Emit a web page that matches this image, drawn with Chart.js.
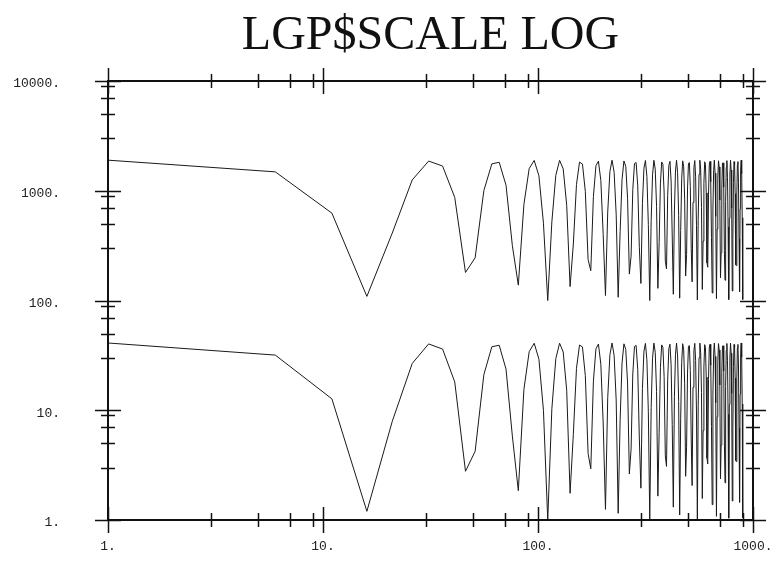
<!DOCTYPE html>
<html><head><meta charset="utf-8">
<script src="https://cdn.jsdelivr.net/npm/chart.js@4.4.0/dist/chart.umd.min.js"></script>
<style>html,body{margin:0;padding:0;background:#fff;}#wrap{width:774px;height:569px;}</style>
</head><body><div id="wrap"><canvas id="c" width="774" height="569"></canvas></div>
<script>
const titleText = 'LGP$SCALE LOG';
const xValues = [1,6,11,16,21,26,31,36,41,46,51,56,61,66,71,76,81,86,91,96,101,106,111,116,121,126,131,136,141,146,151,156,161,166,171,176,181,186,191,196,201,206,211,216,221,226,231,236,241,246,251,256,261,266,271,276,281,286,291,296,301,306,311,316,321,326,331,336,341,346,351,356,361,366,371,376,381,386,391,396,401,406,411,416,421,426,431,436,441,446,451,456,461,466,471,476,481,486,491,496,501,506,511,516,521,526,531,536,541,546,551,556,561,566,571,576,581,586,591,596,601,606,611,616,621,626,631,636,641,646,651,656,661,666,671,676,681,686,691,696,701,706,711,716,721,726,731,736,741,746,751,756,761,766,771,776,781,786,791,796,801,806,811,816,821,826,831,836,841,846,851,856,861,866,871,876,881,886,891,896];
const upperSeries = [1900,1486,625,109,412,1255,1864,1679,869,180,245,1004,1759,1817,1123,316,138,752,1594,1890,1367,507,
100,520,1382,1892,1582,737,134,327,1139,1823,1751,988,236,187,885,1689,1860,1240,400,111,640,1500,
1900,1473,611,107,424,1271,1868,1668,853,174,254,1020,1768,1810,1107,306,143,768,1606,1887,1353,494,
100,534,1396,1894,1570,722,129,337,1155,1830,1742,972,228,194,901,1699,1855,1225,388,114,655,1513,
1899,1459,597,105,436,1286,1873,1657,838,167,263,1036,1776,1803,1091,296,148,783,1618,1885,1338,481,
101,548,1410,1896,1558,707,126,348,1170,1836,1733,956,220,201,916,1709,1850,1209,376,117,669,1526,
1899,1445,583,104,449,1301,1876,1646,822,161,272,1052,1784,1795,1076,286,153,799,1629,1881,1323,468,
102,562,1425,1897,1545,692,122,359,1186,1841,1723,940,212,208,932,1719,1844,1194,365,120,684,1539,
1898,1431,568,102];
const lowerSeries = [41.0,31.8,12.7,1.2,7.93,26.7,40.2,36.1,18.1,2.78,4.22,21.1,37.9,39.1,23.7,5.81,1.85,15.5,34.2,40.8,29.2,10.0,
1.0,10.3,29.5,40.8,33.9,15.2,1.75,6.04,24.1,39.3,37.7,20.7,4.03,2.93,18.4,36.3,40.1,26.3,7.66,1.25,13.0,32.1,
41.0,31.5,12.4,1.15,8.2,27.0,40.3,35.8,17.7,2.63,4.41,21.4,38.1,39.0,23.4,5.58,1.95,15.8,34.5,40.7,28.8,9.75,
1.01,10.6,29.8,40.9,33.7,14.8,1.65,6.28,24.4,39.4,37.5,20.4,3.84,3.08,18.8,36.5,40.0,26.0,7.4,1.31,13.3,32.4,
41.0,31.2,12.0,1.11,8.47,27.4,40.4,35.6,17.4,2.5,4.61,21.8,38.3,38.8,23.0,5.36,2.06,16.2,34.7,40.7,28.5,9.46,
1.02,11.0,30.1,40.9,33.4,14.5,1.57,6.52,24.8,39.6,37.3,20.0,3.66,3.24,19.1,36.8,39.9,25.7,7.14,1.38,13.7,32.7,
41.0,30.9,11.7,1.08,8.75,27.7,40.5,35.4,17.0,2.37,4.82,22.2,38.4,38.7,22.7,5.14,2.18,16.5,35.0,40.6,28.2,9.17,
1.04,11.3,30.4,40.9,33.1,14.2,1.49,6.77,25.1,39.7,37.1,19.7,3.49,3.41,19.5,37.0,39.8,25.3,6.89,1.45,14.0,33.0,
41.0,30.6,11.4,1.05];
const xMajorTicks = [1,10,100,1000];
const xMinorTicks = [3,5,7,9,30,50,70,90,300,500,700,900];
const yMajorTicks = [1,10,100,1000,10000];
const yMinorTicks = [3,5,7,9,30,50,70,90,300,500,700,900,3000,5000,7000,9000];

const toPoints = ys => ys.map((v,i)=>({x:xValues[i], y:v}));

const frameTicks = {
  id:'frameTicks',
  afterDatasetsDraw(chart){
    const {ctx, chartArea:{left,right,top,bottom}, scales:{x,y}} = chart;
    ctx.save();
    ctx.strokeStyle = '#111';
    ctx.lineWidth = 2;
    ctx.strokeRect(left, top, right-left, bottom-top);
    ctx.lineWidth = 1.5;
    const drawX = (vals, h) => vals.forEach(v=>{
      const px = Math.round(x.getPixelForValue(v))+0.5;
      ctx.beginPath();
      ctx.moveTo(px, bottom-h); ctx.lineTo(px, bottom+h);
      ctx.moveTo(px, top-h); ctx.lineTo(px, top+h);
      ctx.stroke();
    });
    const drawY = (vals, w) => vals.forEach(v=>{
      const py = Math.round(y.getPixelForValue(v))+0.5;
      ctx.beginPath();
      ctx.moveTo(left-w, py); ctx.lineTo(left+w, py);
      ctx.moveTo(right-w, py); ctx.lineTo(right+w, py);
      ctx.stroke();
    });
    drawX(xMajorTicks, 13); drawX(xMinorTicks, 7);
    drawY(yMajorTicks, 13); drawY(yMinorTicks, 7);
    ctx.restore();
  }
};

const tickFont = {family:'Liberation Mono', size:13};
new Chart(document.getElementById('c'), {
  type:'line',
  data:{datasets:[
    {data:toPoints(upperSeries), borderColor:'#1a1a1a', borderWidth:1, pointRadius:0, tension:0, fill:false},
    {data:toPoints(lowerSeries), borderColor:'#1a1a1a', borderWidth:1, pointRadius:0, tension:0, fill:false}
  ]},
  options:{
    responsive:false, animation:false, devicePixelRatio:1,
    layout:{padding:{left:0,right:21,top:0,bottom:0}},
    plugins:{
      legend:{display:false}, tooltip:{enabled:false},
      title:{display:true, text:titleText, fullSize:false, color:'#111',
        font:{family:'Liberation Serif', size:48, weight:'normal', lineHeight:1},
        padding:{top:12,bottom:21}}
    },
    scales:{
      x:{type:'logarithmic', position:'bottom', min:1, max:1000,
        afterBuildTicks:s=>{s.ticks = xMajorTicks.map(v=>({value:v}));},
        afterFit:s=>{s.height = 49; s.paddingLeft = 0; s.paddingRight = 0;},
        grid:{display:false, drawTicks:false}, border:{display:false},
        ticks:{font:tickFont, color:'#222', padding:19, maxRotation:0, autoSkip:false,
          callback:v=>v+'.'}},
      y:{type:'logarithmic', position:'left', min:1, max:10000,
        afterBuildTicks:s=>{s.ticks = yMajorTicks.map(v=>({value:v}));},
        afterFit:s=>{s.width = 108; s.paddingTop = 0; s.paddingBottom = 0;},
        grid:{display:false, drawTicks:false}, border:{display:false},
        ticks:{font:tickFont, color:'#222', padding:48, labelOffset:3, autoSkip:false,
          callback:v=>v+'.'}}
    }
  },
  plugins:[frameTicks]
});
</script></body></html>
